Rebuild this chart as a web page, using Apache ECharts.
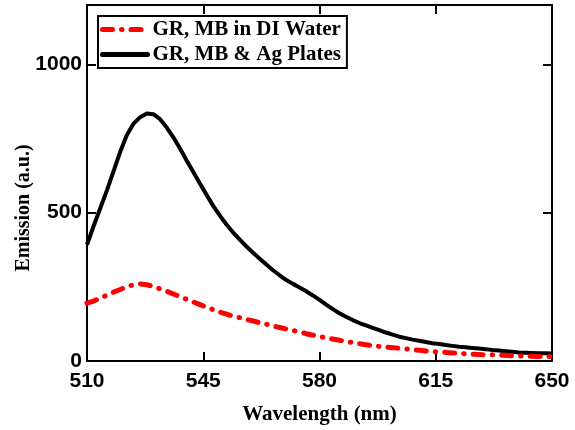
<!DOCTYPE html>
<html>
<head>
<meta charset="utf-8">
<script src="https://cdn.jsdelivr.net/npm/echarts@6/dist/echarts.min.js"></script>
<style>
  html, body { margin: 0; padding: 0; background: #fff; }
  #chart { width: 575px; height: 430px; }
</style>
</head>
<body>
<div id="chart"></div>
<script>
// Emission spectra, wavelength in nm
const wavelength = [
  510, 512, 514, 516, 518, 520, 522, 524, 526, 528,
  530, 532, 534, 536, 538, 540, 542, 544, 546, 548,
  550, 552, 554, 556, 558, 560, 562, 564, 566, 568,
  570, 572, 574, 576, 578, 580, 582, 584, 586, 588,
  590, 592, 594, 596, 598, 600, 602, 604, 606, 608,
  610, 612, 614, 616, 618, 620, 622, 624, 626, 628,
  630, 632, 634, 636, 638, 640, 642, 644, 646, 648, 650
];

// GR, MB in DI Water
const diWater = [
  195, 202, 212, 222, 232, 241, 250, 257, 260, 257,
  251, 243, 235, 226, 217, 208, 199, 190, 181, 173,
  165, 158, 151, 146, 140, 135, 129, 124, 118, 113,
  108, 103, 98, 92, 87, 83, 78, 74, 70, 66,
  62, 58, 55, 52, 49, 47, 45, 43, 41, 38,
  36, 34, 32, 30, 29, 27, 26, 24, 23, 22,
  21, 21, 20, 19, 18, 17, 17, 16, 15, 15, 15
];

// GR, MB & Ag Plates
const agPlates = [
  392, 455, 515, 575, 640, 705, 762, 800, 822, 834,
  832, 815, 787, 754, 716, 676, 637, 598, 560, 523,
  490, 460, 433, 409, 386, 365, 345, 325, 306, 289,
  273, 260, 248, 235, 221, 206, 190, 175, 161, 149,
  138, 128, 120, 112, 104, 96, 89, 82, 77, 72,
  68, 64, 60, 57, 54, 51, 48, 46, 44, 42,
  40, 37, 35, 33, 31, 29, 28, 27, 26, 26, 25
];

const seriesNames = ['GR, MB in DI Water', 'GR, MB & Ag Plates'];
const xTicks = [510, 545, 580, 615, 650];
const yTicks = [0, 500, 1000];
const xTitle = 'Wavelength (nm)';
const yTitle = 'Emission (a.u.)';

const pairs = vals => wavelength.map((w, i) => [w, vals[i]]);

const labelFont = {
  color: '#000',
  fontFamily: 'Liberation Sans, Arial, sans-serif',
  fontWeight: 'bold',
  fontSize: 21
};
const titleFont = {
  color: '#000',
  fontFamily: 'Liberation Serif, Times New Roman, serif',
  fontWeight: 'bold',
  fontSize: 21
};
const frameLine = { show: true, onZero: false, lineStyle: { color: '#000', width: 2 } };
const frameTick = (vals) => ({ show: true, inside: true, length: 9, lineStyle: { color: '#000', width: 2 }, customValues: vals });

const chart = echarts.init(document.getElementById('chart'), null, { renderer: 'canvas' });

chart.setOption({
  animation: false,
  backgroundColor: '#fff',
  grid: { left: 87, right: 23, top: 5, bottom: 69, containLabel: false, outerBoundsMode: 'none' },
  graphic: [
    {
      type: 'text',
      x: 24,
      y: 208,
      rotation: Math.PI / 2,
      style: {
        text: yTitle,
        fill: '#000',
        font: 'bold 20px "Liberation Serif", "Times New Roman", serif',
        align: 'center',
        verticalAlign: 'middle'
      }
    }
  ],
  legend: {
    orient: 'vertical',
    left: 98,
    top: 16,
    padding: [3, 6, 3, 2],
    itemGap: 4,
    itemWidth: 45,
    itemHeight: 14,
    borderColor: '#000',
    borderWidth: 2,
    backgroundColor: '#fff',
    itemStyle: { opacity: 0 },
    lineStyle: { width: 5, cap: 'round' },
    textStyle: Object.assign({}, titleFont, { lineHeight: 20 }),
    data: seriesNames
  },
  xAxis: [
    {
      type: 'value',
      min: 510, max: 650, interval: 35,
      position: 'bottom',
      axisLine: frameLine,
      axisTick: frameTick(xTicks),
      axisLabel: Object.assign({ margin: 10, customValues: xTicks, formatter: v => String(v) }, labelFont),
      splitLine: { show: false },
      name: xTitle,
      nameLocation: 'middle',
      nameGap: 43,
      nameTextStyle: titleFont
    },
    {
      type: 'value',
      min: 510, max: 650, interval: 35,
      position: 'top',
      axisLine: frameLine,
      axisTick: frameTick(xTicks),
      axisLabel: { show: false },
      splitLine: { show: false }
    }
  ],
  yAxis: [
    {
      type: 'value',
      min: 0, max: 1200, interval: 500,
      position: 'left',
      axisLine: frameLine,
      axisTick: frameTick(yTicks),
      axisLabel: Object.assign({ margin: 5, customValues: yTicks, formatter: v => String(v) }, labelFont),
      splitLine: { show: false }
    },
    {
      type: 'value',
      min: 0, max: 1200, interval: 500,
      position: 'right',
      axisLine: frameLine,
      axisTick: frameTick(yTicks),
      axisLabel: { show: false },
      splitLine: { show: false }
    }
  ],
  series: [
    {
      name: seriesNames[0],
      type: 'line',
      xAxisIndex: 0,
      yAxisIndex: 0,
      data: pairs(diWater),
      symbol: 'none',
      smooth: false,
      z: 3,
      color: '#ff0000',
      lineStyle: { color: '#ff0000', width: 5, type: [10, 9, 0.5, 9], cap: 'round' }
    },
    {
      name: seriesNames[1],
      type: 'line',
      xAxisIndex: 0,
      yAxisIndex: 0,
      data: pairs(agPlates),
      symbol: 'none',
      smooth: false,
      z: 2,
      color: '#000',
      lineStyle: { color: '#000', width: 4 }
    }
  ]
});
</script>
</body>
</html>
